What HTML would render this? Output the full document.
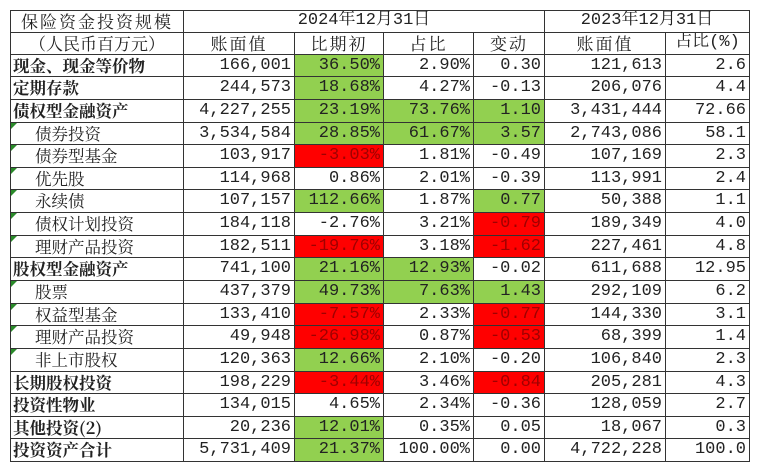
<!DOCTYPE html>
<html><head><meta charset="utf-8"><style>
body{margin:0;background:#fff;width:760px;height:475px;overflow:hidden;}
table{position:absolute;left:10px;top:10px;border-collapse:collapse;table-layout:fixed;font-family:"Liberation Mono","Noto Serif CJK SC",monospace;font-size:17px;color:#222;}
td{border:1.5px solid #333;padding:0;text-align:right;white-space:nowrap;position:relative;}
td>div{height:21.65px;line-height:21.65px;overflow:hidden;padding:0 3px;}
tr.h td>div{height:20.8px;line-height:20.8px;text-align:center;}
td.l>div{text-align:left;font-weight:bold;padding-left:2px;font-family:"Noto Serif CJK SC",serif;font-size:16.5px;}
td.i>div{text-align:left;padding-left:24px;font-family:"Noto Serif CJK SC",serif;font-size:16.5px;}
td.i::before{content:"";position:absolute;left:0;top:0;border-top:6px solid #2a8a2a;border-right:6px solid transparent;}
.g{background:#92d050;}
.r{background:#ff0000;color:#a00000;}
.c{font-family:"Noto Serif CJK SC",serif;letter-spacing:2px;}
</style></head><body>
<table>
<colgroup><col style="width:173px"><col style="width:111px"><col style="width:89px"><col style="width:90px"><col style="width:71px"><col style="width:121px"><col style="width:84px"></colgroup>
<tr class="h"><td><div class="c">保险资金投资规模</div></td><td colspan="4"><div>2024年12月31日</div></td><td colspan="2"><div>2023年12月31日</div></td></tr>
<tr class="h"><td><div class="c" style="letter-spacing:0">（人民币百万元）</div></td><td><div class="c">账面值</div></td><td><div class="c">比期初</div></td><td><div class="c">占比</div></td><td><div class="c">变动</div></td><td><div class="c">账面值</div></td><td><div>占比(%)</div></td></tr>
<tr><td class="l"><div>现金、现金等价物</div></td><td><div>166,001</div></td><td class="g"><div>36.50%</div></td><td><div>2.90%</div></td><td><div>0.30</div></td><td><div>121,613</div></td><td><div>2.6</div></td></tr>
<tr><td class="l"><div>定期存款</div></td><td><div>244,573</div></td><td class="g"><div>18.68%</div></td><td><div>4.27%</div></td><td><div>-0.13</div></td><td><div>206,076</div></td><td><div>4.4</div></td></tr>
<tr><td class="l"><div>债权型金融资产</div></td><td><div>4,227,255</div></td><td class="g"><div>23.19%</div></td><td class="g"><div>73.76%</div></td><td class="g"><div>1.10</div></td><td><div>3,431,444</div></td><td><div>72.66</div></td></tr>
<tr><td class="i"><div>债券投资</div></td><td><div>3,534,584</div></td><td class="g"><div>28.85%</div></td><td class="g"><div>61.67%</div></td><td class="g"><div>3.57</div></td><td><div>2,743,086</div></td><td><div>58.1</div></td></tr>
<tr><td class="i"><div>债券型基金</div></td><td><div>103,917</div></td><td class="r"><div>-3.03%</div></td><td><div>1.81%</div></td><td><div>-0.49</div></td><td><div>107,169</div></td><td><div>2.3</div></td></tr>
<tr><td class="i"><div>优先股</div></td><td><div>114,968</div></td><td><div>0.86%</div></td><td><div>2.01%</div></td><td><div>-0.39</div></td><td><div>113,991</div></td><td><div>2.4</div></td></tr>
<tr><td class="i"><div>永续债</div></td><td><div>107,157</div></td><td class="g"><div>112.66%</div></td><td><div>1.87%</div></td><td class="g"><div>0.77</div></td><td><div>50,388</div></td><td><div>1.1</div></td></tr>
<tr><td class="i"><div>债权计划投资</div></td><td><div>184,118</div></td><td><div>-2.76%</div></td><td><div>3.21%</div></td><td class="r"><div>-0.79</div></td><td><div>189,349</div></td><td><div>4.0</div></td></tr>
<tr><td class="i"><div>理财产品投资</div></td><td><div>182,511</div></td><td class="r"><div>-19.76%</div></td><td><div>3.18%</div></td><td class="r"><div>-1.62</div></td><td><div>227,461</div></td><td><div>4.8</div></td></tr>
<tr><td class="l"><div>股权型金融资产</div></td><td><div>741,100</div></td><td class="g"><div>21.16%</div></td><td class="g"><div>12.93%</div></td><td><div>-0.02</div></td><td><div>611,688</div></td><td><div>12.95</div></td></tr>
<tr><td class="i"><div>股票</div></td><td><div>437,379</div></td><td class="g"><div>49.73%</div></td><td class="g"><div>7.63%</div></td><td class="g"><div>1.43</div></td><td><div>292,109</div></td><td><div>6.2</div></td></tr>
<tr><td class="i"><div>权益型基金</div></td><td><div>133,410</div></td><td class="r"><div>-7.57%</div></td><td><div>2.33%</div></td><td class="r"><div>-0.77</div></td><td><div>144,330</div></td><td><div>3.1</div></td></tr>
<tr><td class="i"><div>理财产品投资</div></td><td><div>49,948</div></td><td class="r"><div>-26.98%</div></td><td><div>0.87%</div></td><td class="r"><div>-0.53</div></td><td><div>68,399</div></td><td><div>1.4</div></td></tr>
<tr><td class="i"><div>非上市股权</div></td><td><div>120,363</div></td><td class="g"><div>12.66%</div></td><td><div>2.10%</div></td><td><div>-0.20</div></td><td><div>106,840</div></td><td><div>2.3</div></td></tr>
<tr><td class="l"><div>长期股权投资</div></td><td><div>198,229</div></td><td class="r"><div>-3.44%</div></td><td><div>3.46%</div></td><td class="r"><div>-0.84</div></td><td><div>205,281</div></td><td><div>4.3</div></td></tr>
<tr><td class="l"><div>投资性物业</div></td><td><div>134,015</div></td><td><div>4.65%</div></td><td><div>2.34%</div></td><td><div>-0.36</div></td><td><div>128,059</div></td><td><div>2.7</div></td></tr>
<tr><td class="l"><div>其他投资(2)</div></td><td><div>20,236</div></td><td class="g"><div>12.01%</div></td><td><div>0.35%</div></td><td><div>0.05</div></td><td><div>18,067</div></td><td><div>0.3</div></td></tr>
<tr><td class="l"><div>投资资产合计</div></td><td><div>5,731,409</div></td><td class="g"><div>21.37%</div></td><td><div>100.00%</div></td><td><div>0.00</div></td><td><div>4,722,228</div></td><td><div>100.0</div></td></tr>
</table>
</body></html>
